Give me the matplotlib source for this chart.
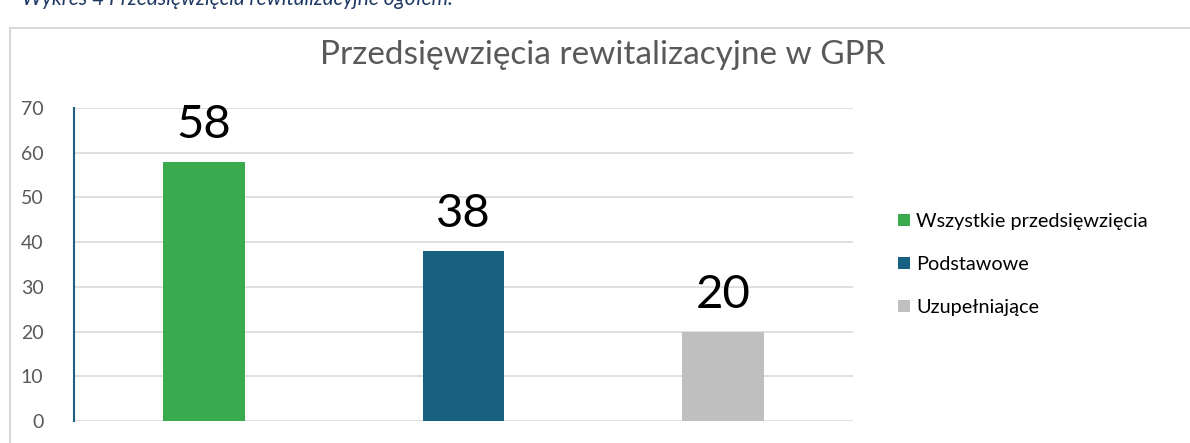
import matplotlib.pyplot as plt
from matplotlib.patches import Rectangle

# Chart data
categories = ['Wszystkie przedsięwzięcia', 'Podstawowe', 'Uzupełniające']
values = [58, 38, 20]
colors = ['#3aaa4f', '#17607f', '#bfbfbf']
yticks = [0, 10, 20, 30, 40, 50, 60, 70]

plt.rcParams['font.family'] = ['Lato', 'DejaVu Sans']

fig = plt.figure(figsize=(11.9, 4.43), dpi=100)
ax = fig.add_axes([74 / 1190, 22 / 443, 779 / 1190, 313 / 443])

# Outer chart border
fig.patches.append(Rectangle((10 / 1190, -0.1), 1.1, 1 - 28 / 443 + 0.1,
                             transform=fig.transFigure, fill=False,
                             edgecolor='#d9d9d9', linewidth=1.5))

# Caption cut off at the top of the image
fig.text(22 / 1190, 1 + 1 / 443, 'Wykres 4 Przedsięwzięcia rewitalizacyjne ogółem.',
         ha='left', va='center', fontsize=15, style='italic', color='#1f3864')

for i, (cat, val, col) in enumerate(zip(categories, values, colors)):
    ax.bar(i, val, width=0.315, color=col, label=cat, zorder=3)
    ax.text(i, val + 3.5, str(val), ha='center', va='bottom', fontsize=34, color='black')

ax.set_xlim(-0.5, 2.5)
ax.set_ylim(0, 70)
ax.set_yticks(yticks)
ax.set_xticks([])
ax.tick_params(axis='y', length=0, labelsize=14, labelcolor='#595959', pad=22)
ax.grid(axis='y', color='#d9d9d9', linewidth=1.2, zorder=0)
for s in ['top', 'right', 'bottom']:
    ax.spines[s].set_visible(False)
ax.spines['left'].set_color('#1f5f7f')
ax.spines['left'].set_linewidth(1.5)

fig.suptitle('Przedsięwzięcia rewitalizacyjne w GPR', x=603 / 1190, y=1 - 55 / 443,
             va='center', fontsize=24, color='#595959')

ax.legend(loc='center left', bbox_to_anchor=(1.035, 0.5), frameon=False,
          fontsize=14.3, handlelength=0.6, handleheight=0.6, handletextpad=0.3,
          labelspacing=1.3)

plt.savefig('out.png', dpi=100)
